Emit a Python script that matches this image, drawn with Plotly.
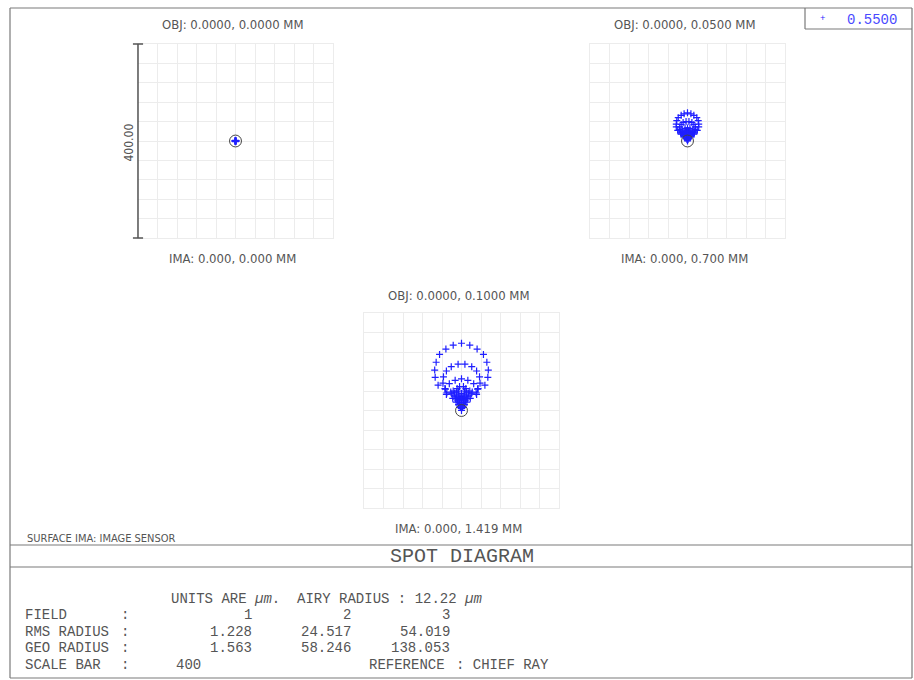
import plotly.graph_objects as go

# ---------------- data (micrometres, relative to chief ray) ----------------
FIELD_OBJ = ["OBJ: 0.0000, 0.0000 MM", "OBJ: 0.0000, 0.0500 MM", "OBJ: 0.0000, 0.1000 MM"]
FIELD_IMA = ["IMA: 0.000, 0.000 MM", "IMA: 0.000, 0.700 MM", "IMA: 0.000, 1.419 MM"]
WAVELENGTH = "0.5500"
AIRY_RADIUS = 12.22
SCALE_BAR = 400
RMS_RADIUS = ["1.228", "24.517", "54.019"]
GEO_RADIUS = ["1.563", "58.246", "138.053"]
FIELD_NUM = ["1", "2", "3"]

F1_X = [0, 1.2, -1.2, 0.9, -0.9, 0, 0, 0.6, -0.6]
F1_Y = [0, 0.6, 0.6, -0.8, -0.8, 1.5, -1.4, 0.3, 0.3]

F2_X = [0, 7, -7, 13, -13, 19, -19, 22, -22, 23, -23, 23, -23, 20, -20, 13, -13, 0,
        3, -3, 9, -9, 13, -13, 16, -16, 16, -16, 14, -14, 8, -8, 0,
        0, 5, -5, 11, -11, 14, -14, 13, -13, 8, -8, 0,
        2, -2, 4, -4, 4, -4, 3, -3, 0,
        0, 2, -2, 2, -2, 0,
        1, -1, 0,
        0,
        6, -6, 5, -5, 3, -3, 10, -10, 7, -7, 4, -4, 0, 0]
F2_Y = [58, 56, 56, 53, 53, 48, 48, 42, 42, 35, 35, 29, 29, 22, 22, 15, 15, 12,
        40, 40, 38, 38, 34, 34, 29, 29, 24, 24, 18, 18, 14, 14, 13,
        27, 26, 26, 23, 23, 19, 19, 14, 14, 11, 11, 9,
        21, 21, 19, 19, 16, 16, 13, 13, 12,
        10, 9, 9, 7, 7, 6,
        3, 3, 2,
        0,
        13, 13, 9, 9, 6, 6, 17, 17, 16, 16, 12, 12, 16, 19]

F3_X = [0, 17, -17, 32, -32, 45, -45, 52, -52, 55, -55, 54, -54, 48, -48, 30, -30, 0,
        7, -7, 21, -21, 31, -31, 37, -37, 38, -38, 33, -33, 20, -20, 0,
        0, 13, -13, 25, -25, 34, -34, 31, -31, 18, -18, 0,
        4, -4, 9, -9, 10, -10, 7, -7, 0,
        0, 4, -4, 4, -4, 0,
        2, -2, 0,
        0,
        15, -15, 12, -12, 8, -8, 6, -6, 3, -3, 10, -10, 14, -14, 6, -6, 0, 17, -17,
        22, -22, 11, -11, 5, -5, 0]
F3_Y = [138, 134, 134, 126, 126, 115, 115, 99, 99, 83, 83, 68, 68, 52, 52, 36, 36, 28,
        95, 95, 90, 90, 81, 81, 69, 69, 56, 56, 44, 44, 34, 34, 30,
        65, 62, 62, 55, 55, 45, 45, 33, 33, 25, 25, 22,
        49, 49, 45, 45, 38, 38, 32, 32, 29,
        25, 22, 22, 17, 17, 15,
        6, 6, 4,
        0,
        30, 30, 24, 24, 20, 20, 12, 12, 9, 9, 28, 28, 36, 36, 40, 40, 35, 40, 40,
        38, 38, 17, 17, 27, 27, 10]

# ---------------- layout helpers ----------------
W, H = 914, 680
def px(x):
    return x / W
def py(y):
    return 1 - y / H

BLUE = "#1f1fff"
TXT = "#555555"
FRAME = "#7a7a7a"
GRID = "#ececec"
NARROW = "Liberation Sans Narrow, DejaVu Sans Condensed, Roboto Condensed, Roboto, sans-serif"
MONO = "Liberation Mono, DejaVu Sans Mono, monospace"

half = SCALE_BAR / 2
# plot boxes in pixels: (left, right, top, bottom)
BOXES = [(138, 333, 44, 238), (590, 785, 44, 238), (364, 559, 313, 508)]
DATA = [(F1_X, F1_Y), (F2_X, F2_Y), (F3_X, F3_Y)]

fig = go.Figure()
layout_axes = {}
for i, ((l, r, t, b), (xs, ys)) in enumerate(zip(BOXES, DATA)):
    n = "" if i == 0 else str(i + 1)
    fig.add_trace(go.Scatter(
        x=xs, y=ys, mode="markers", xaxis="x" + n, yaxis="y" + n,
        marker=dict(symbol="cross-thin", size=5, color=BLUE, line=dict(width=1.2, color=BLUE)),
        showlegend=False, hoverinfo="skip"))
    ax = dict(range=[-half, half], domain=[px(l), px(r)], showgrid=True, gridcolor=GRID,
              gridwidth=1, tick0=0, dtick=SCALE_BAR / 10, zeroline=False, showticklabels=False,
              ticks="", showline=True, linecolor=GRID, linewidth=1, mirror=True, fixedrange=True)
    ay = dict(ax)
    ay["domain"] = [py(b), py(t)]
    ax["anchor"] = "y" + n
    ay["anchor"] = "x" + n
    layout_axes["xaxis" + n] = ax
    layout_axes["yaxis" + n] = ay

shapes = []
anns = []
# Airy circles around chief ray
for i in range(3):
    n = "" if i == 0 else str(i + 1)
    shapes.append(dict(type="circle", xref="x" + n, yref="y" + n,
                       x0=-AIRY_RADIUS, x1=AIRY_RADIUS, y0=-AIRY_RADIUS, y1=AIRY_RADIUS,
                       line=dict(color="#444444", width=1)))

# scale bar on first plot
shapes.append(dict(type="line", xref="x domain", yref="y domain", x0=0, x1=0, y0=0, y1=1,
                   line=dict(color="#555555", width=1.5)))
for yy in (0, 1):
    shapes.append(dict(type="line", xref="x domain", yref="y domain", x0=-0.026, x1=0.026,
                       y0=yy, y1=yy, line=dict(color="#555555", width=1.5)))
anns.append(dict(x=px(128.5), y=py(143), xref="paper", yref="paper", text="%.2f" % SCALE_BAR,
                 textangle=-90, showarrow=False, font=dict(family=NARROW, size=12, color=TXT),
                 xanchor="center", yanchor="middle"))

# field labels
OBJ_POS = [(232.5, 25), (684, 25), (458.5, 295)]
IMA_POS = [(232.5, 258), (684, 258), (458.8, 528)]
for (ox, oy), (ix, iy), ot, it in zip(OBJ_POS, IMA_POS, FIELD_OBJ, FIELD_IMA):
    anns.append(dict(x=px(ox), y=py(oy), xref="paper", yref="paper", text=ot, showarrow=False,
                     font=dict(family=NARROW, size=13, color=TXT), xanchor="center", yanchor="middle"))
    anns.append(dict(x=px(ix), y=py(iy), xref="paper", yref="paper", text=it, showarrow=False,
                     font=dict(family=NARROW, size=13, color=TXT), xanchor="center", yanchor="middle"))

# frame
def pline(x0, y0, x1, y1, w=1.2):
    shapes.append(dict(type="line", xref="paper", yref="paper", x0=px(x0), y0=py(y0),
                       x1=px(x1), y1=py(y1), line=dict(color=FRAME, width=w)))
pline(10, 8, 912, 8)
pline(10, 8, 10, 678)
pline(912, 8, 912, 678)
pline(10, 678, 912, 678)
pline(10, 545, 912, 545)
pline(10, 567, 912, 567)
# legend box
pline(805, 8, 805, 29)
pline(805, 29, 912, 29)
anns.append(dict(x=px(822), y=py(19), xref="paper", yref="paper", text="+", showarrow=False,
                 font=dict(family=MONO, size=9, color=BLUE), xanchor="center", yanchor="middle"))
anns.append(dict(x=px(845), y=py(20), xref="paper", yref="paper", text=WAVELENGTH, showarrow=False,
                 font=dict(family=MONO, size=14, color="#4a4aff"), xanchor="left", yanchor="middle"))

# bottom texts
anns.append(dict(x=px(25), y=py(538), xref="paper", yref="paper", text="SURFACE IMA: IMAGE SENSOR",
                 showarrow=False, font=dict(family=NARROW, size=11, color=TXT),
                 xanchor="left", yanchor="middle"))
anns.append(dict(x=px(462), y=py(556), xref="paper", yref="paper", text="SPOT DIAGRAM",
                 showarrow=False, font=dict(family=MONO, size=20, color=TXT),
                 xanchor="center", yanchor="middle"))

TF = dict(family=MONO, size=14, color=TXT)
def tx(x, y, s, anchor="left"):
    anns.append(dict(x=px(x), y=py(y), xref="paper", yref="paper", text=s, showarrow=False,
                     font=TF, xanchor=anchor, yanchor="middle"))

tx(169, 599, "UNITS ARE <i>µm</i>.  AIRY RADIUS : %.2f <i>µm</i>" % AIRY_RADIUS)
ROWS_Y = [615, 632, 648, 665]
ROW_LABELS = ["FIELD", "RMS RADIUS", "GEO RADIUS", "SCALE BAR"]
for lab, yy in zip(ROW_LABELS, ROWS_Y):
    tx(23, yy, lab)
    tx(125, yy, ":", "center")
COL_R = [254, 353, 452]
for c, f, rms, geo in zip(COL_R, FIELD_NUM, RMS_RADIUS, GEO_RADIUS):
    tx(c, ROWS_Y[0], f, "right")
    tx(c, ROWS_Y[1], rms, "right")
    tx(c, ROWS_Y[2], geo, "right")
tx(174, ROWS_Y[3], str(SCALE_BAR))
tx(367, ROWS_Y[3], "REFERENCE")
tx(454, ROWS_Y[3], ": CHIEF RAY")

fig.update_layout(width=W, height=H, margin=dict(l=0, r=0, t=0, b=0),
                  paper_bgcolor="white", plot_bgcolor="white",
                  shapes=shapes, annotations=anns, showlegend=False, **layout_axes)

fig.write_html("out.html", config={"displayModeBar": False, "staticPlot": True},
               post_script="document.body.style.margin='0px';document.body.style.overflow='hidden';")
